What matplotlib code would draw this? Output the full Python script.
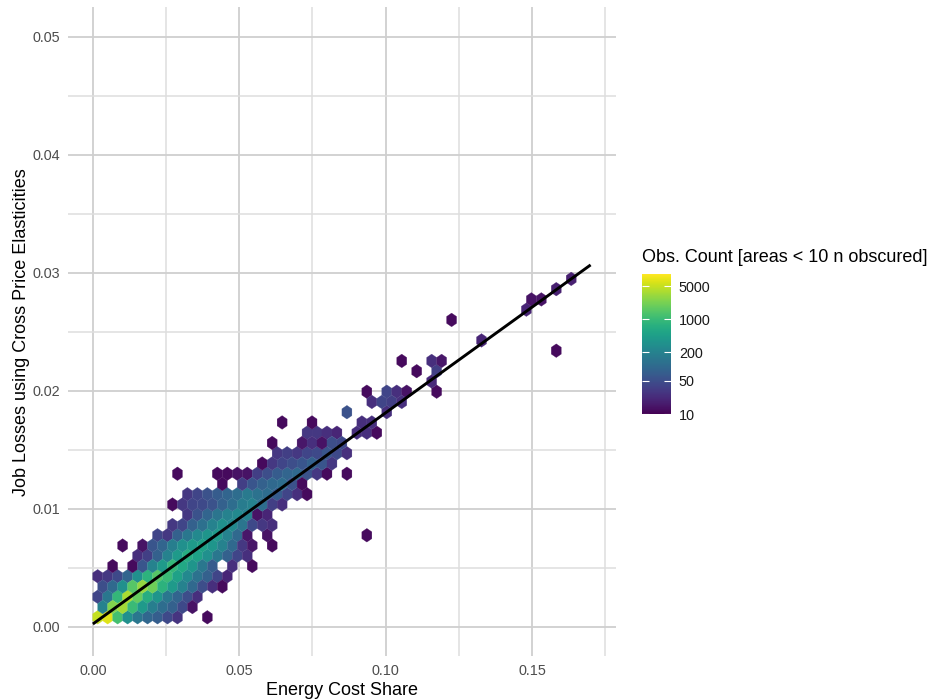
import matplotlib
matplotlib.use("Agg")
import matplotlib.pyplot as plt
import numpy as np
from matplotlib.colors import LogNorm

plt.rcParams["font.family"] = ["Liberation Sans", "DejaVu Sans"]

# ---- hex bins, one entry per bin row (bottom row first) ----
# row_first_bin: column index of the leftmost bin in that row
# row_counts: observations per bin, left to right (0 = empty or obscured, < 10)
row_first_bin = [0, 0, 0, 0, 0, 0, 4, 2, 6, 7, 9, 7, 9, 12, 8, 16, 18,
                 17, 21, 18, 25, 27, 27, 33, 32, 30, 46, 38, 0, 35, 43, 43,
                 46, 47]
row_counts = [
    [5000, 6500, 1200, 300, 150, 95, 75, 45, 28, 0, 0, 12],
    [200, 2500, 3500, 1000, 400, 180, 110, 80, 45, 14],
    [40, 150, 900, 3800, 1800, 700, 350, 150, 90, 50, 25],
    [50, 100, 300, 1500, 3000, 2000, 800, 400, 200, 100, 50, 25, 12],
    [25, 30, 45, 90, 300, 800, 1500, 1000, 500, 250, 130, 80, 40, 20],
    [0, 12, 0, 12, 60, 200, 400, 900, 600, 350, 150, 70, 0, 25, 0, 12],
    [25, 35, 80, 200, 400, 700, 500, 300, 150, 80, 40, 25],
    [12, 0, 14, 60, 90, 180, 300, 400, 500, 350, 200, 100, 30, 15, 0, 12],
    [40, 30, 80, 150, 250, 350, 400, 200, 100, 15, 0, 14,
     0, 0, 0, 0, 0, 0, 0, 0, 0, 12],
    [30, 40, 80, 120, 200, 300, 250, 140, 45, 30, 25],
    [30, 55, 90, 140, 200, 250, 200, 14, 20],
    [12, 30, 40, 45, 55, 80, 110, 170, 200, 110, 35, 25],
    [30, 40, 55, 70, 90, 110, 160, 130, 110, 70, 40, 25, 12],
    [12, 0, 35, 60, 80, 100, 110, 55, 12],
    [12, 0, 0, 0, 12, 12, 14, 14, 35, 50, 70, 90, 100, 55, 30, 12, 0, 12],
    [12, 30, 40, 50, 60, 80, 60, 30],
    [30, 35, 30, 40, 45, 60, 45, 25],
    [12, 0, 0, 15, 25, 14, 50, 45],
    [30, 30, 25, 20, 0, 25, 25, 12],
    [12, 0, 0, 12, 0, 0, 0, 0, 25, 25],
    [55, 0, 0, 0, 25],
    [25, 40, 35, 25],
    [12, 0, 40, 25, 14, 0, 0, 12],
    [22],
    [12, 0, 35],
    [12, 0, 0, 25, 15],
    [12],
    [20],
    [],
    [12],
    [20],
    [14, 14],
    [18],
    [18],
]

# fitted line (energy cost share -> job losses)
line_share = [0.0, 0.17]
line_loss = [0.00023, 0.03066]

x_ticks = [0.0, 0.05, 0.10, 0.15]
y_ticks = [0.0, 0.01, 0.02, 0.03, 0.04, 0.05]
legend_ticks = [10, 50, 200, 1000, 5000]

# hex grid geometry
share0, share_step = 0.00164, 0.003405
loss0, loss_step = 0.000797, 0.000869

xs, ys, ns = [], [], []
for r, (first, counts) in enumerate(zip(row_first_bin, row_counts)):
    for i, n in enumerate(counts):
        if n <= 0:
            continue
        c = first + i
        xs.append(share0 + share_step * (c + 0.5 * (r % 2)))
        ys.append(loss0 + loss_step * r)
        ns.append(n)
xs, ys, ns = np.array(xs), np.array(ys), np.array(ns, dtype=float)

fig = plt.figure(figsize=(9.3, 7.0), dpi=100)
ax = fig.add_axes([68 / 930, 1 - 656.2 / 700, 547.5 / 930, 649 / 700])

nx, ny = 60, 20
hb = ax.hexbin(xs, ys, C=ns, reduce_C_function=np.sum,
               gridsize=(nx, ny),
               extent=(share0, share0 + nx * share_step,
                       loss0, loss0 + ny * 2 * loss_step),
               cmap="viridis", norm=LogNorm(vmin=10, vmax=9100),
               linewidths=0.2, edgecolors="face", zorder=2)

ax.plot(line_share, line_loss, color="black", lw=2.1, zorder=3,
        solid_capstyle="butt")

ax.set_xlim(-0.0085, 0.1785)
ax.set_ylim(-0.0025, 0.0525)
ax.set_xticks(x_ticks)
ax.set_xticklabels([f"{v:.2f}" for v in x_ticks])
ax.set_yticks(y_ticks)
ax.set_yticklabels([f"{v:.2f}" for v in y_ticks])
ax.set_xticks([0.025, 0.075, 0.125, 0.175], minor=True)
ax.set_yticks([0.005, 0.015, 0.025, 0.035, 0.045], minor=True)
ax.grid(True, which="major", color="#cfcfcf", lw=1.3)
ax.grid(True, which="minor", color="#dedede", lw=1.1)
ax.set_axisbelow(True)
ax.tick_params(which="both", length=0, labelsize=10.4, labelcolor="#4d4d4d",
               pad=5.5)
for s in ax.spines.values():
    s.set_visible(False)

ax.set_xlabel("Energy Cost Share", fontsize=13, labelpad=3)
ax.set_ylabel("Job Losses using Cross Price Elasticities", fontsize=13,
              labelpad=2)

# colour legend
cax = fig.add_axes([642 / 930, 1 - 414 / 700, 28.5 / 930, 140 / 700])
cb = fig.colorbar(hb, cax=cax)
cb.outline.set_visible(False)
cb.set_ticks(legend_ticks)
cb.set_ticklabels([str(v) for v in legend_ticks])
cax.minorticks_off()
cax.tick_params(direction="in", length=5, width=0.8, color="white",
                left=True, right=True, labelsize=10.4, labelcolor="#1a1a1a",
                pad=6)
fig.text(642 / 930, 1 - 258 / 700, "Obs. Count [areas < 10 n obscured]",
         fontsize=13, ha="left", va="center")

fig.savefig("out.png", dpi=100)
